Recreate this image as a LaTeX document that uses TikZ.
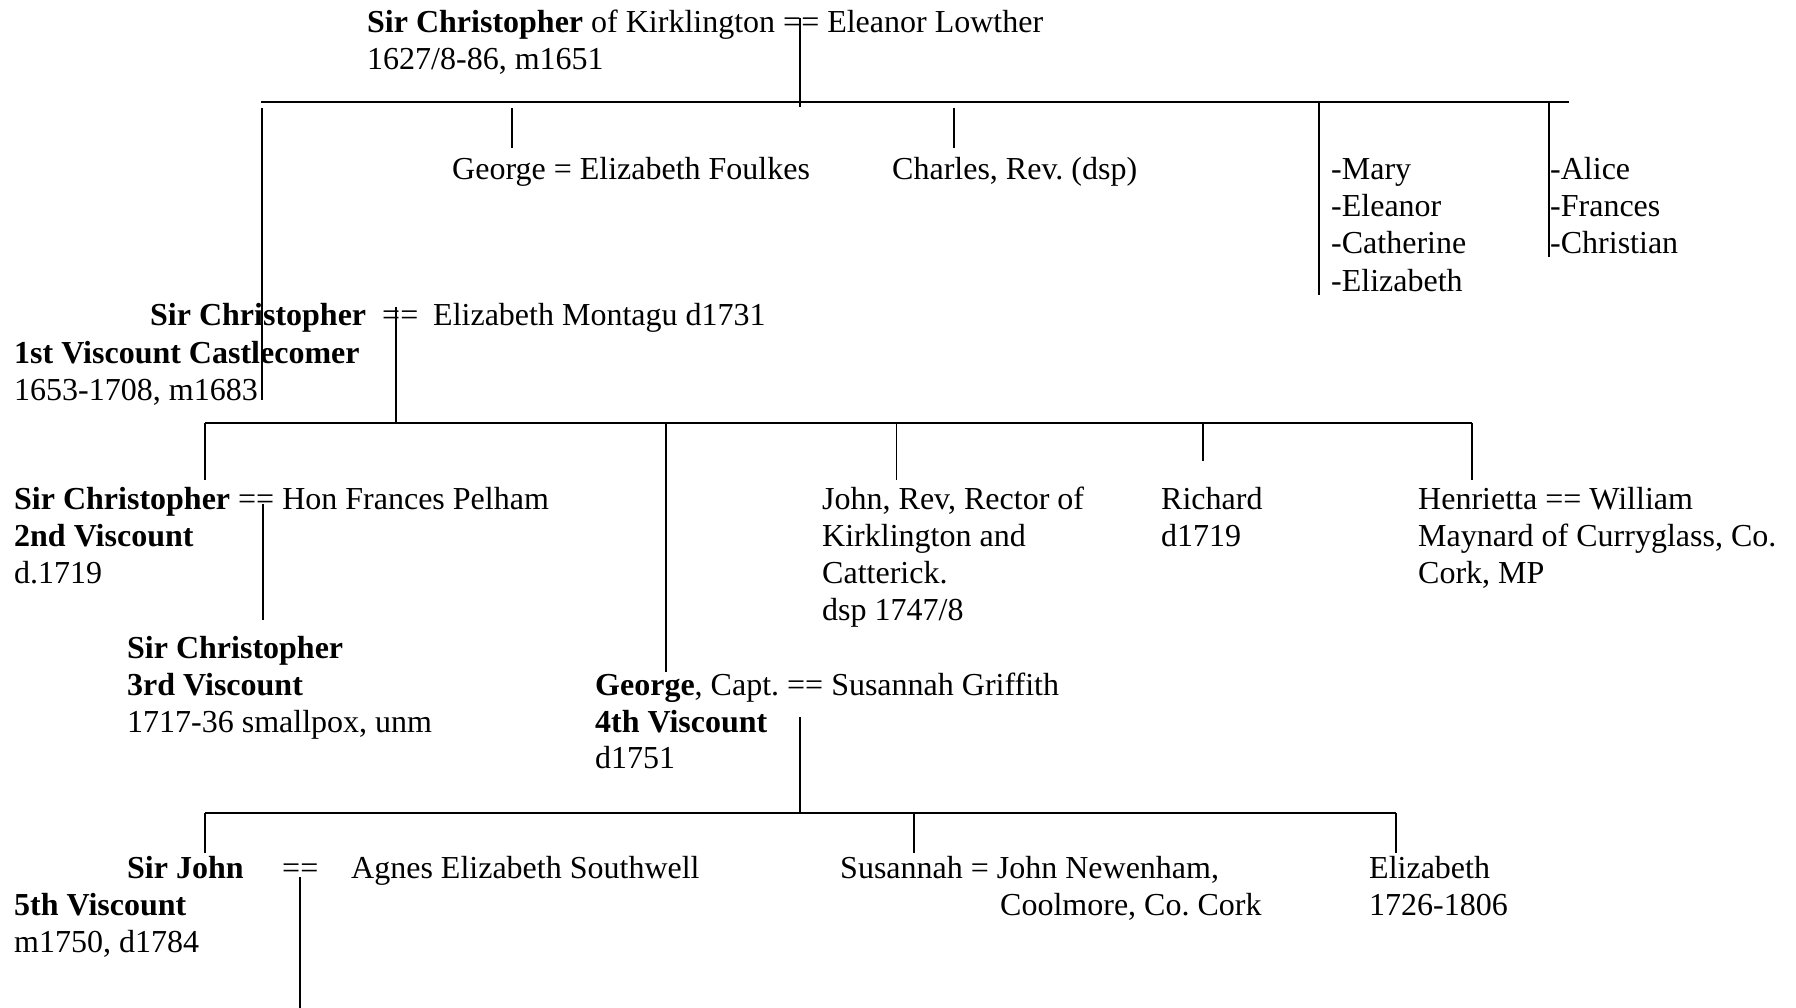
\documentclass[tikz,border=0pt]{standalone}
\usepackage{fontspec}
\setmainfont{Liberation Serif}
\frenchspacing
\begin{document}
\begin{tikzpicture}[x=1pt,y=-1pt,
  t/.style={anchor=base west, inner sep=0pt, font=\fontsize{32}{37}\selectfont\frenchspacing},
  vline/.style={line width=1.3pt},
  bar/.style={line width=2pt}]
\useasboundingbox (0,0) rectangle (1796,1008);
% ---------- texts ----------
\node[t] (p0a) at (367,33) {\textbf{Sir Christopher} of Kirklington == Eleanor Lowther};
\node[t] (p0b) at (367,70) {1627/8-86, m1651};
\node[t] (geo) at (452,180) {George = Elizabeth Foulkes};
\node[t] (cha) at (892,180) {Charles, Rev. (dsp)};
\node[t] (m1) at (1331,180) {-Mary};
\node[t] (m2) at (1331,217) {-Eleanor};
\node[t] (m3) at (1331,254) {-Catherine};
\node[t] (m4) at (1331,291) {-Elizabeth};
\node[t] (a1) at (1550,180) {-Alice};
\node[t] (a2) at (1550,217) {-Frances};
\node[t] (a3) at (1550,254) {-Christian};
\node[t] (c1a) at (150,326) {\textbf{Sir Christopher}};
\node[t] (c1eq) at (382,326) {==};
\node[t] (c1w) at (433,326) {Elizabeth Montagu d1731};
\node[t] (c1b) at (14,363) {\textbf{1st Viscount Castlecomer}};
\node[t] (c1c) at (14,400) {1653-1708, m1683};
\node[t] (c2a) at (14,509) {\textbf{Sir Christopher} == Hon Frances Pelham};
\node[t] (c2b) at (14,546) {\textbf{2nd Viscount}};
\node[t] (c2c) at (14,583) {d.1719};
\node[t] (c3a) at (127,658) {\textbf{Sir Christopher}};
\node[t] (c3b) at (127,695) {\textbf{3rd Viscount}};
\node[t] (c3c) at (127,732) {1717-36 smallpox, unm};
\node[t] (j1) at (822,509) {John, Rev, Rector of};
\node[t] (j2) at (822,546) {Kirklington and};
\node[t] (j3) at (822,583) {Catterick.};
\node[t] (j4) at (822,620) {dsp 1747/8};
\node[t] (r1) at (1161,509) {Richard};
\node[t] (r2) at (1161,546) {d1719};
\node[t] (h1) at (1418,509) {Henrietta == William};
\node[t] (h2) at (1418,546) {Maynard of Curryglass, Co.};
\node[t] (h3) at (1418,583) {Cork, MP};
\node[t] (g1) at (595,695) {\textbf{George}, Capt. == Susannah Griffith};
\node[t] (g2) at (595,732) {\textbf{4th Viscount}};
\node[t] (g3) at (595,768) {d1751};
\node[t] (s1) at (127,878) {\textbf{Sir John}};
\node[t] (s1eq) at (282,878) {==};
\node[t] (s1w) at (351,878) {Agnes Elizabeth Southwell};
\node[t] (s2) at (14,915) {\textbf{5th Viscount}};
\node[t] (s3) at (14,952) {m1750, d1784};
\node[t] (su1) at (840,878) {Susannah = John Newenham,};
\node[t] (su2) at (1000,915) {Coolmore, Co. Cork};
\node[t] (e1) at (1369,878) {Elizabeth};
\node[t] (e2) at (1369,915) {1726-1806};
% ---------- junction coordinates ----------
\coordinate (m0) at (800,18);   \coordinate (m0b) at (800,107);
\coordinate (b1l) at (261,101.7); \coordinate (b1r) at (1569,101.7);
\coordinate (k1t) at (262,108); \coordinate (k1b) at (262,400);
\coordinate (k2t) at (512,108); \coordinate (k2b) at (512,148);
\coordinate (k3t) at (954,108); \coordinate (k3b) at (954,148);
\coordinate (k4t) at (1319,101.7); \coordinate (k4b) at (1319,295);
\coordinate (k5t) at (1549,101.7); \coordinate (k5b) at (1549,257);
\coordinate (m1t) at (396,307); \coordinate (m1b) at (396,422.7);
\coordinate (b2l) at (205,422.7); \coordinate (b2r) at (1472,422.7);
\coordinate (l1b) at (205,480);
\coordinate (l2t) at (666,422.7); \coordinate (l2b) at (666,672);
\coordinate (l3t) at (896.7,422.7); \coordinate (l3b) at (896.7,480);
\coordinate (l4t) at (1203,422.7); \coordinate (l4b) at (1203,461);
\coordinate (l5b) at (1472,480);
\coordinate (m2t) at (263,504); \coordinate (m2b) at (263,620);
\coordinate (m3t) at (800,717); \coordinate (m3b) at (800,813);
\coordinate (b3l) at (205,813); \coordinate (b3r) at (1396,813);
\coordinate (q1b) at (205,853);
\coordinate (q2t) at (914,813); \coordinate (q2b) at (914,853);
\coordinate (q3b) at (1396,853);
\coordinate (m4t) at (300,877); \coordinate (m4b) at (300,1008);
% ---------- connectors ----------
\draw[vline] (m0) -- (m0b);
\draw[bar] (b1l) -- (b1r);
\draw[vline] (k1t) -- (k1b);
\draw[vline] (k2t) -- (k2b);
\draw[vline] (k3t) -- (k3b);
\draw[vline] (k4t) -- (k4b);
\draw[vline] (k5t) -- (k5b);
\draw[vline] (m1t) -- (m1b);
\draw[bar] (b2l) -- (b2r);
\draw[vline] (b2l) -- (l1b);
\draw[vline] (l2t) -- (l2b);
\draw[vline] (l3t) -- (l3b);
\draw[vline] (l4t) -- (l4b);
\draw[vline] (b2r) -- (l5b);
\draw[vline] (m2t) -- (m2b);
\draw[vline] (m3t) -- (m3b);
\draw[bar] (b3l) -- (b3r);
\draw[vline] (b3l) -- (q1b);
\draw[vline] (q2t) -- (q2b);
\draw[vline] (b3r) -- (q3b);
\draw[vline] (m4t) -- (m4b);
\end{tikzpicture}
\end{document}
